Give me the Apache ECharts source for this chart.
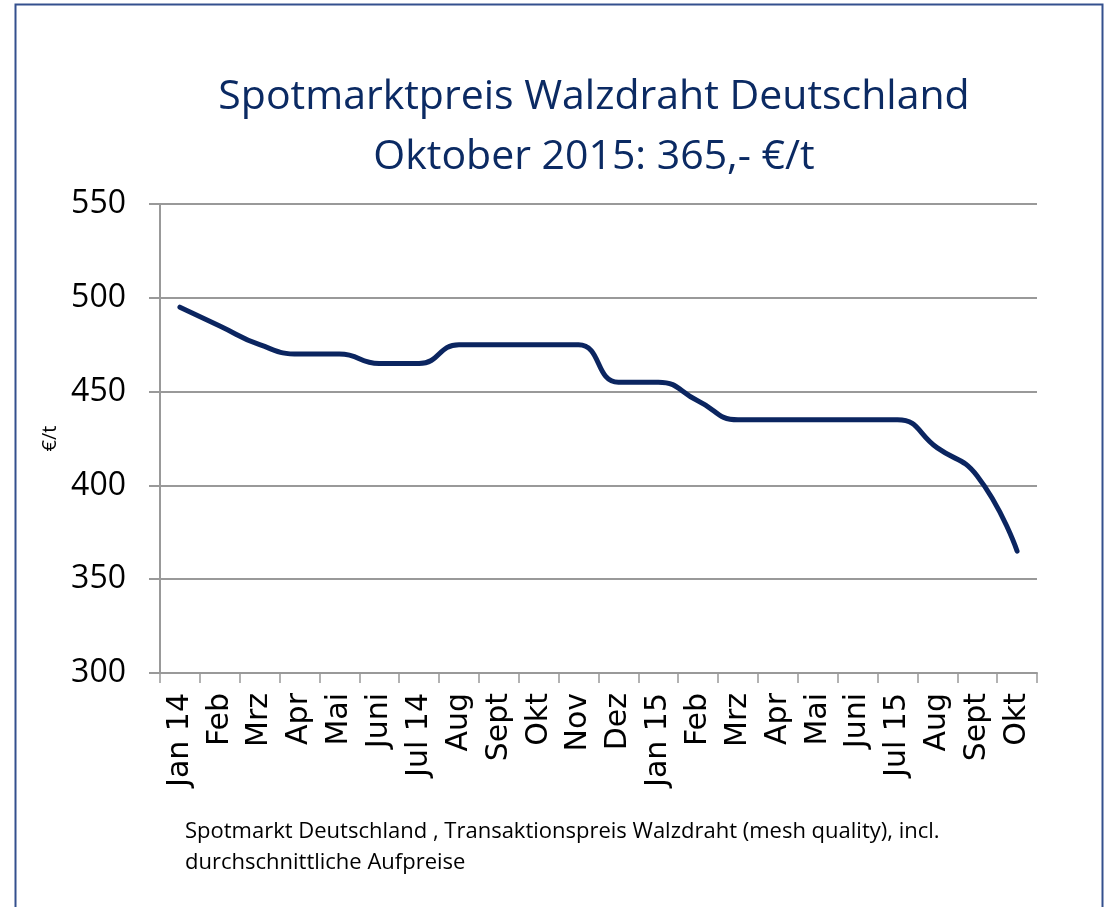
<!DOCTYPE html>
<html>
<head>
<meta charset="utf-8">
<script src="https://cdn.jsdelivr.net/npm/echarts@6/dist/echarts.min.js"></script>
<style>
html, body { margin: 0; padding: 0; background: #fff; }
#main { width: 1109px; height: 907px; }
</style>
</head>
<body>
<div id="main"></div>
<script>
// Monate Jan 14 - Okt 15
var months = ['Jan 14', 'Feb', 'Mrz', 'Apr', 'Mai', 'Juni', 'Jul 14', 'Aug', 'Sept', 'Okt', 'Nov', 'Dez',
    'Jan 15', 'Feb', 'Mrz', 'Apr', 'Mai', 'Juni', 'Jul 15', 'Aug', 'Sept', 'Okt'];
// Spotmarktpreis in €/t
var prices = [495, 485, 475, 470, 470, 465, 465, 475, 475, 475, 475, 455,
    455, 445, 435, 435, 435, 435, 435, 420, 405, 365];
var yTicks = { min: 300, max: 550, step: 50 };

var titleText = 'Spotmarktpreis Walzdraht Deutschland\nOktober 2015: 365,- €/t';
var noteText = 'Spotmarkt Deutschland , Transaktionspreis Walzdraht (mesh quality), incl.\ndurchschnittliche Aufpreise';

var myChart = echarts.init(document.getElementById('main'));

var option = {
    backgroundColor: '#fff',
    animation: false,
    grid: {
        left: 160,
        right: 72,
        top: 204,
        bottom: 234
    },
    xAxis: {
        type: 'category',
        data: months,
        boundaryGap: true,
        axisLine: { lineStyle: { color: '#999', width: 2 } },
        axisTick: { show: true, length: 10, lineStyle: { color: '#999', width: 1.5 } },
        axisLabel: {
            rotate: 90,
            interval: 0,
            margin: 20,
            color: '#000',
            fontSize: 30,
            fontFamily: 'DejaVu Sans'
        }
    },
    yAxis: {
        type: 'value',
        min: yTicks.min,
        max: yTicks.max,
        interval: yTicks.step,
        name: '€/t',
        nameLocation: 'middle',
        nameGap: 98,
        nameRotate: 90,
        nameTextStyle: { color: '#000', fontSize: 20, fontFamily: 'Open Sans' },
        axisLine: { show: true, lineStyle: { color: '#999', width: 2 } },
        axisTick: { show: true, length: 11, lineStyle: { color: '#999', width: 2 } },
        axisLabel: {
            margin: 34,
            color: '#000',
            fontSize: 32,
            fontFamily: 'Open Sans'
        },
        splitLine: { show: true, lineStyle: { color: '#999', width: 2 } }
    },
    series: [
        {
            type: 'line',
            data: prices,
            smooth: 0.5,
            symbol: 'none',
            lineStyle: { color: '#0b2560', width: 5, cap: 'round' }
        }
    ],
    graphic: [
        {
            type: 'rect',
            shape: { x: 15.5, y: 4.5, width: 1087, height: 920 },
            style: { fill: 'none', stroke: '#34508e', lineWidth: 2 },
            silent: true
        },
        {
            type: 'text',
            x: 594,
            y: 127,
            style: {
                text: titleText,
                fill: '#0b2a63',
                font: '41px "Open Sans"',
                lineHeight: 60,
                align: 'center',
                verticalAlign: 'middle'
            }
        },
        {
            type: 'text',
            left: 185,
            top: 816,
            style: {
                text: noteText,
                fill: '#000',
                font: '22px "Open Sans"',
                lineHeight: 31
            }
        }
    ]
};

myChart.setOption(option);
</script>
</body>
</html>
